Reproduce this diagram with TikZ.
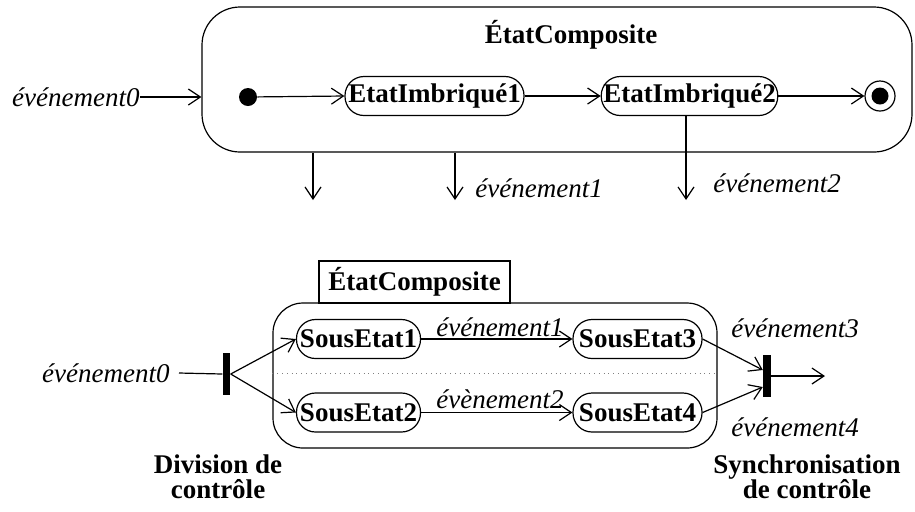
\documentclass[tikz,border=0pt]{standalone}
\usepackage{fontspec}
\setmainfont{Liberation Serif}[ItalicFont={Liberation Serif Italic}, BoldFont={Liberation Serif Bold}, BoldItalicFont={Liberation Serif Bold Italic}]
\usetikzlibrary{arrows.meta}
\tikzset{
 conn/.style={line width=0.6pt, -{Straight Barb[length=6pt,width=8pt,line width=0.6pt]}},
 plainline/.style={line width=0.6pt},
 st/.style={draw, line width=0.6pt, rounded corners=9.5pt, minimum height=19.5pt, inner sep=1pt, font=\bfseries},
 lab/.style={font=\itshape, inner sep=0pt},
 ttl/.style={font=\bfseries, inner sep=0pt},
 syncbar/.style={fill=black, minimum width=3.8pt, minimum height=21pt, inner sep=0pt},
 twoline/.style={font={\fontsize{13.5}{12.5}\selectfont\bfseries}, align=center, inner sep=0pt},
}
\begin{document}
\fontsize{13.5}{16}\selectfont
\begin{tikzpicture}[x=0.5pt,y=-0.5pt]
\useasboundingbox (0,0) rectangle (915,511);
% ---- top composite state
\node[draw, line width=0.6pt, rounded corners=19pt, minimum width=355pt, minimum height=72.5pt] (comp) at (557,79.5) {};
\node[ttl] (ctitle) at (571,35) {ÉtatComposite};
\node[lab, anchor=east] (ev0) at (140,97) {événement0};
\node[circle, fill=black, minimum size=9pt, inner sep=0pt] (init) at (248,97) {};
\node[st, minimum width=89.5pt] (ei1) at (434.5,96) {EtatImbriqué1};
\node[st, minimum width=87.5pt] (ei2) at (689.5,96) {EtatImbriqué2};
\node[circle, draw, line width=0.6pt, minimum size=15pt, inner sep=0pt] (fin) at (880,96) {};
\node[circle, fill=black, minimum size=8.5pt, inner sep=0pt] (finin) at (fin.center) {};
\draw[conn] (ev0.east) -- (ev0.east -| comp.west);
\draw[conn] (init) -- (ei1.west);
\draw[conn] (ei1.east) -- (ei2.west);
\draw[conn] (ei2.east) -- (fin.west);
\coordinate (d1) at (313,200);
\coordinate (d2) at (455,200);
\coordinate (d3) at (686,200);
\draw[conn] (d1 |- comp.south) -- (d1);
\draw[conn] (d2 |- comp.south) -- (d2);
\draw[conn] (d3 |- ei2.south) -- (d3);
\node[lab, anchor=west] (ev1) at (475,188) {événement1};
\node[lab, anchor=west] (ev2) at (713,183) {événement2};
% ---- bottom composite state
\node[draw, line width=0.6pt, ttl, minimum width=95.5pt, minimum height=21pt] (btitle) at (414.5,282) {ÉtatComposite};
\node[draw, line width=0.6pt, rounded corners=15pt, minimum width=222pt, minimum height=72.5pt] (comp2) at (495,375.5) {};
\coordinate (dl) at (495,373);
\draw[gray, line width=0.4pt, dotted] (dl -| comp2.west) -- (dl -| comp2.east);
\node[syncbar] (fork) at (226.5,374) {};
\node[lab, anchor=east] (ev0b) at (170,373) {événement0};
\draw[plainline] ([xshift=4.5pt]ev0b.east) -- (fork.west);
\node[st, minimum width=62pt] (se1) at (358.5,339) {SousEtat1};
\node[st, minimum width=62pt] (se2) at (358.5,412.5) {SousEtat2};
\node[st, minimum width=64.5pt] (se3) at (637.5,339) {SousEtat3};
\node[st, minimum width=64.5pt] (se4) at (637.5,412.5) {SousEtat4};
\draw[conn] (fork.east) -- (se1.west);
\draw[conn] (fork.east) -- (se2.west);
\draw[conn] (se1.east) -- (se3.west);
\draw[conn] (se2.east) -- (se4.west);
\node[lab] (ev1b) at (500,327) {événement1};
\node[lab] (ev2b) at (500,399) {évènement2};
\node[syncbar] (join) at (767,376) {};
\coordinate (out) at (825,376);
\draw[conn] (se3.east) -- ([yshift=3pt]join.west);
\draw[conn] (se4.east) -- ([yshift=-5.5pt]join.west);
\draw[conn] (join.east) -- (out);
\node[lab, anchor=west] (ev3) at (731,328) {événement3};
\node[lab, anchor=west] (ev4) at (731,427) {événement4};
\node[twoline] (div) at (218,477) {Division de\\contrôle};
\node[twoline] (sync) at (807,477) {Synchronisation\\de contrôle};
\end{tikzpicture}
\end{document}
